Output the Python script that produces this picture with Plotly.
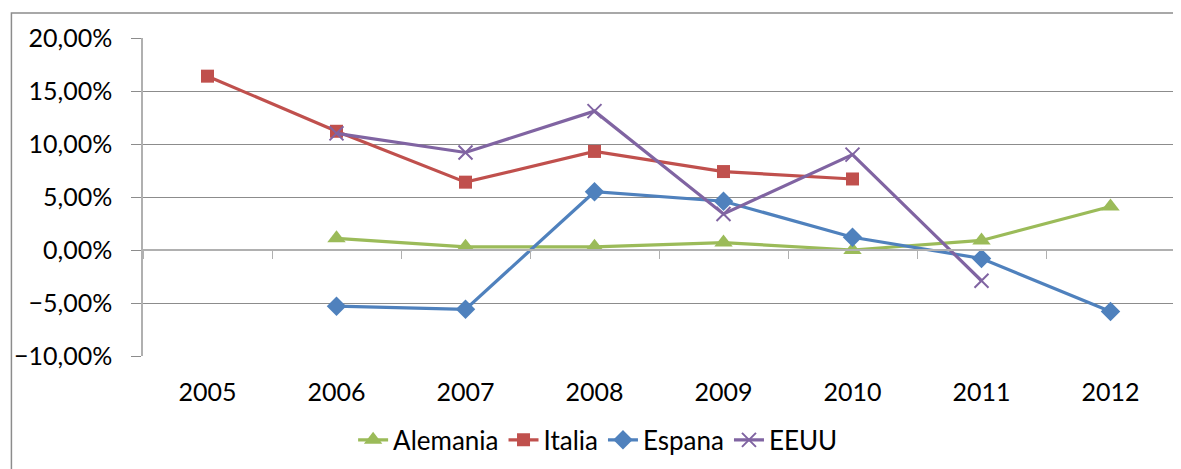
import plotly.graph_objects as go

years = ["2005", "2006", "2007", "2008", "2009", "2010", "2011", "2012"]
alemania = [None, 0.011, 0.003, 0.003, 0.007, 0.000, 0.009, 0.041]
italia = [0.164, 0.112, 0.064, 0.093, 0.074, 0.067, None, None]
espana = [None, -0.053, -0.056, 0.055, 0.046, 0.012, -0.008, -0.058]
eeuu = [None, 0.110, 0.092, 0.131, 0.034, 0.090, -0.029, None]
y_ticks = [-0.10, -0.05, 0.0, 0.05, 0.10, 0.15, 0.20]

FONT = "Lato"
GRID = "#8c8c8c"

fig = go.Figure()
series = [
    ("Alemania", alemania, "#9BBB59", "triangle-up", 16),
    ("Italia", italia, "#C0504D", "square", 13),
    ("Espana", espana, "#4F81BD", "diamond", 15),
    ("EEUU", eeuu, "#8064A2", "x-thin-open", 14),
]
for name, vals, col, sym, sz in series:
    fig.add_trace(go.Scatter(
        x=years, y=vals, name=name, mode="lines+markers",
        line=dict(color=col, width=3.2),
        marker=dict(symbol=sym, size=sz, color=col,
                    line=dict(color=col, width=2 if sym.startswith("x") else 0)),
        connectgaps=False,
    ))

# secondary x-axis drawn at y=0 carrying the category boundary ticks
fig.add_trace(go.Scatter(x=years, y=[None] * len(years), xaxis="x2",
                         showlegend=False, hoverinfo="skip"))

fig.update_layout(
    width=1173, height=461,
    margin=dict(l=132, r=6, t=30, b=113),
    paper_bgcolor="white", plot_bgcolor="white",
    separators=",.",
    font=dict(family=FONT, size=25, color="black"),
    xaxis=dict(type="category", categoryorder="array", categoryarray=years,
               showgrid=False, showline=False, ticks="", zeroline=False,
               tickfont=dict(size=25), ticklabelstandoff=19,
               range=[-0.5, 7.5]),
    xaxis2=dict(type="category", categoryorder="array", categoryarray=years,
                overlaying="x", matches="x", anchor="free", position=1/3,
                side="bottom", showgrid=False, showline=True, linecolor="#b0b0b0",
                linewidth=1.5, tickson="boundaries", ticks="outside", ticklen=8,
                tickcolor="#b0b0b0", showticklabels=False),
    yaxis=dict(range=[-0.10, 0.20], tickvals=y_ticks, tickformat=".2%",
               showgrid=True, gridcolor=GRID, gridwidth=1.2, zeroline=False,
               showline=True, linecolor="#b0b0b0", linewidth=1.5,
               ticks="outside", ticklen=10, tickcolor=GRID,
               tickfont=dict(size=25), ticklabelstandoff=14),
    legend=dict(orientation="h", x=0.441, xanchor="center", y=-0.264,
                yanchor="middle", font=dict(size=26), itemwidth=30,
                bgcolor="rgba(0,0,0,0)"),
    shapes=[dict(type="rect", xref="paper", yref="paper",
                 x0=-0.1275, x1=1.03, y0=-0.6, y1=1.0786,
                 line=dict(color="#8c8c8c", width=1.5), layer="below")],
    showlegend=True,
)

fig.write_html("out.html")
